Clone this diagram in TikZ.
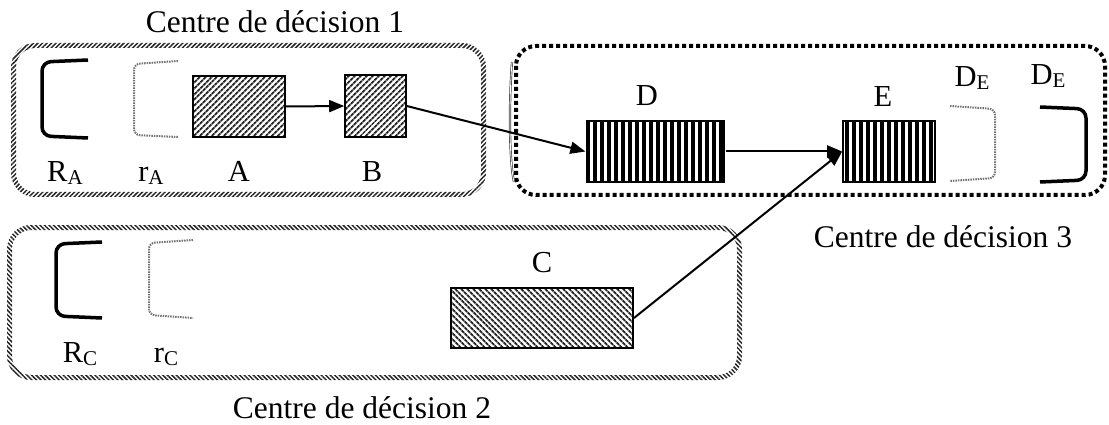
\documentclass[tikz,border=0pt]{standalone}
\usepackage{fontspec}
\setmainfont{Liberation Serif}
\usetikzlibrary{patterns.meta,arrows.meta}
\newcommand\subl[2]{#1\raisebox{-3pt}{\fontsize{21}{21}\selectfont #2}}
\begin{document}
\begin{tikzpicture}[x=1pt,y=-1pt,
  titletxt/.style={anchor=base,font=\fontsize{31.5}{36}\selectfont,inner sep=0},
  lbl/.style={anchor=base,font=\fontsize{30.5}{34}\selectfont,inner sep=0},
  slantbox/.style={draw,line width=1.6pt,inner sep=0,pattern={Lines[angle=45,distance=4pt,line width=2pt]},pattern color=black!85},
  backbox/.style={draw,line width=1.6pt,inner sep=0,pattern={Lines[angle=-45,distance=4pt,line width=2pt]},pattern color=black!85},
  stripebox/.style={draw,line width=1.6pt,inner sep=0,pattern={Lines[angle=90,distance=7pt,line width=3.2pt]},pattern color=black},
  arr/.style={line width=2pt,-{Triangle[length=15pt,width=12pt]}},
  thickbr/.style={line width=3.5pt,rounded corners=9pt},
  dotbr/.style={line width=2pt,black!55,dash pattern=on 1.5pt off 1pt,rounded corners=6pt},
  dotframe/.style={line width=4pt,dash pattern=on 4pt off 3pt,rounded corners=20pt},
]
\useasboundingbox (0,0) rectangle (1109,425);

% hatched frames of centres 1 and 2
\fill[pattern={Lines[angle=45,distance=3.2pt,line width=1.5pt]},pattern color=black!85,even odd rule]
  [rounded corners=24pt] (11,43) rectangle (486,197)
  [rounded corners=19pt] (16,48) rectangle (481,192);
\fill[pattern={Lines[angle=-45,distance=3.2pt,line width=1.5pt]},pattern color=black!85,even odd rule]
  [rounded corners=24pt] (7,225) rectangle (742,380)
  [rounded corners=19pt] (12,230) rectangle (737,375);
% dotted frame of centre 3
\draw[dotframe] (516,46) rectangle (1105,195);
\draw[black!75,line width=0.7pt,double,double distance=0.8pt] (512,62) .. controls (509,100) and (509,160) .. (514,182);

% titles
\node[titletxt] (t1) at (275,33) {Centre de décision 1};
\node[titletxt] (t3) at (943,247) {Centre de décision 3};
\node[titletxt] (t2) at (362,418) {Centre de décision 2};

% brackets
\draw[thickbr] (88,60) -- (42,62) -- (42,136) -- (88,138);
\draw[dotbr] (178,61) -- (134,64) -- (134,135) -- (178,137);
\draw[thickbr] (102,242) -- (56,244) -- (56,316) -- (102,318);
\draw[dotbr] (193,240) -- (149,243) -- (149,315) -- (193,318);
\draw[dotbr] (950,106) -- (995,109) -- (995,178) -- (950,181);
\draw[thickbr] (1040,107) -- (1086,109) -- (1086,180) -- (1040,182);

% boxes
\node[slantbox,minimum width=92pt,minimum height=61pt] (A) at (239,106.5) {};
\node[slantbox,minimum width=61pt,minimum height=62pt] (B) at (375.5,106) {};
\node[stripebox,minimum width=137pt,minimum height=61pt] (D) at (655.5,151.5) {};
\node[stripebox,minimum width=92pt,minimum height=61pt] (E) at (889,151.5) {};
\node[backbox,minimum width=182pt,minimum height=60pt] (C) at (542,318) {};

% labels
\node[lbl] (lRA) at (65,182) {\subl{R}{A}};
\node[lbl] (lrA) at (151,182) {\subl{r}{A}};
\node[lbl] (lA) at (239,182) {A};
\node[lbl] (lB) at (372,182) {B};
\node[lbl] (lD) at (647,106) {D};
\node[lbl] (lE) at (883,107) {E};
\node[lbl] (lDE1) at (972,87) {\subl{D}{E}};
\node[lbl] (lDE2) at (1048,85) {\subl{D}{E}};
\node[lbl] (lC) at (542,272) {C};
\node[lbl] (lRC) at (80,362) {\subl{R}{C}};
\node[lbl] (lrC) at (166,362) {\subl{r}{C}};

% connectors
\draw[arr] (A.east) -- (B.west);
\draw[arr] (B.east) -- (D.west);
\draw[arr] (D.east) -- (E.west);
\draw[arr] (C.east) -- (E.west);
\end{tikzpicture}
\end{document}
